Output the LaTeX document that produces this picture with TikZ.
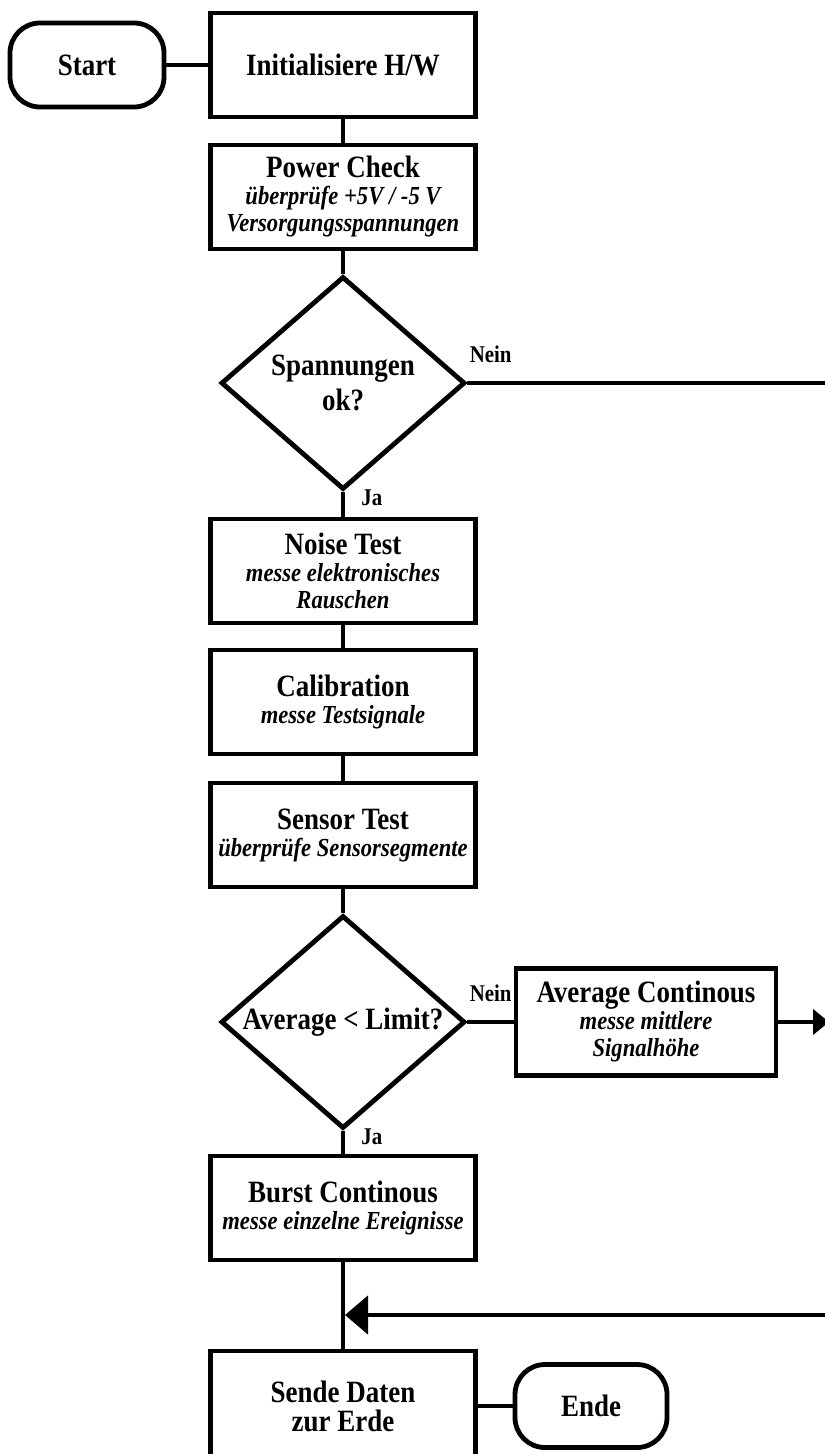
\documentclass[tikz,border=0pt]{standalone}
\usepackage{fontspec}
\setmainfont{Liberation Serif}[FakeStretch=0.87]
\usetikzlibrary{shapes.geometric,arrows.meta,positioning}
\tikzset{
  box/.style={draw, line width=2.4pt, minimum width=132.5pt, minimum height=52pt, align=center, inner sep=2pt, font=\fontsize{13}{13.5}\selectfont},
  term/.style={draw, line width=2.4pt, rounded corners=15pt, minimum width=77pt, minimum height=42pt, font=\fontsize{15.5}{16}\selectfont\bfseries},
  ask/.style={draw, diamond, line width=2.4pt, minimum width=122pt, minimum height=106.5pt, aspect=1.15, inner sep=0pt, align=center, font=\fontsize{15.5}{17.5}\selectfont\bfseries},
  lbl/.style={inner sep=0pt, font=\fontsize{12}{12}\selectfont\bfseries},
  link/.style={line width=2.4pt},
}
\newcommand{\steptitle}[1]{{\fontsize{15.5}{13.5}\selectfont\bfseries #1}}
\newcommand{\stepnote}[1]{{\bfseries\itshape #1}}
\begin{document}
\begin{tikzpicture}[x=0.5pt,y=-0.5pt]
\useasboundingbox (0,0) rectangle (824,1454);
\node (S) at (87,65) [term] {Start};
\node (I) at (343,65) [box] {\steptitle{Initialisiere H/W}};
\node (P) at (343,197) [box] {\steptitle{Power Check}\\ \stepnote{überprüfe +5V / -5 V}\\ \stepnote{Versorgungsspannungen}};
\node (Q1) at (343,383) [ask] {Spannungen\\ok?};
\node (N) at (343,571) [box] {\steptitle{Noise Test}\\ \stepnote{messe elektronisches}\\ \stepnote{Rauschen}};
\node (C) at (343,702) [box] {\steptitle{Calibration}\\ \stepnote{messe Testsignale}};
\node (T) at (343,835) [box] {\steptitle{Sensor Test}\\ \stepnote{überprüfe Sensorsegmente}};
\node (Q2) at (343,1022) [ask] {Average < Limit?};
\node (A) at (646,1022) [box, minimum width=130pt, minimum height=53.5pt] {\steptitle{Average Continous}\\ \stepnote{messe mittlere}\\ \stepnote{Signalhöhe}};
\node (B) at (343,1208) [box] {\steptitle{Burst Continous}\\ \stepnote{messe einzelne Ereignisse}};
\node (D) at (343,1406) [box, minimum height=55pt, font=\fontsize{13}{14.5}\selectfont] {\steptitle{Sende Daten}\\ \steptitle{zur Erde}};
\node (E) at (591,1406) [term, minimum width=76pt, minimum height=41.5pt] {Ende};

\node (nein1) [lbl, anchor=south west] at ([shift={(1pt,10pt)}]Q1.east) {Nein};
\node (ja1) [lbl, anchor=west] at ([shift={(9pt,-3pt)}]Q1.south) {Ja};
\node (nein2) [lbl, anchor=south west] at ([shift={(1pt,10pt)}]Q2.east) {Nein};
\node (ja2) [lbl, anchor=west] at ([shift={(9pt,-3pt)}]Q2.south) {Ja};

\coordinate (out1) at (830,383);
\coordinate (out2) at (829,1022);
\coordinate (in1) at (830,1315);
\coordinate (J) at (345,1315);

\draw[link] (S) -- (I);
\draw[link] (I) -- (P);
\draw[link] (P) -- (Q1);
\draw[link] (Q1.east) -- (Q1.east -| out1);
\draw[link] (Q1) -- (N);
\draw[link] (N) -- (C);
\draw[link] (C) -- (T);
\draw[link] (T) -- (Q2);
\draw[link] (Q2) -- (A);
\draw[link,-{Triangle[length=8pt,width=12.5pt]}] (A.east) -- (A.east -| out2);
\draw[link] (Q2) -- (B);
\draw[link] (B) -- (D);
\draw[link,-{Triangle[length=11.5pt,width=19pt]}] (in1) -- (J);
\draw[link] (D) -- (E);
\end{tikzpicture}
\end{document}
